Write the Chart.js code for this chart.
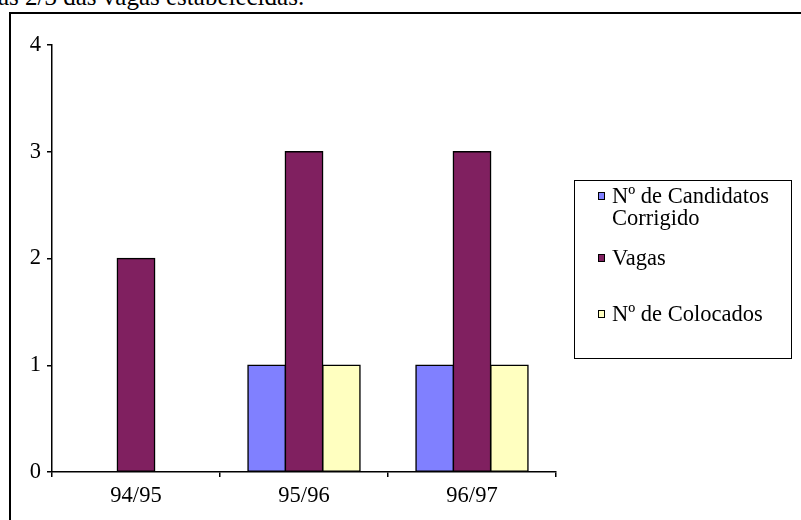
<!DOCTYPE html>
<html>
<head>
<meta charset="utf-8">
<script src="https://cdn.jsdelivr.net/npm/chart.js@4.4.0/dist/chart.umd.min.js"></script>
<style>
    body { margin: 0; background: #fff; width: 801px; height: 520px; overflow: hidden; position: relative; font-family: "Liberation Serif", "Times New Roman", serif; }
    #top-text { position: absolute; left: -2px; top: -17px; font-size: 25px; white-space: nowrap; }
    #frame { position: absolute; left: 9px; top: 12px; width: 900px; height: 600px; border: 2px solid #000; box-sizing: border-box; }
    #chart-container { position: absolute; left: 0; top: 0; width: 801px; height: 520px; }
    #legend { position: absolute; left: 574px; top: 180px; width: 218px; height: 179px; border: 1.5px solid #000; box-sizing: border-box; font-size: 22.5px; }
    .item { position: absolute; left: 37px; line-height: 22px; }
    .mark { position: absolute; left: -14px; top: 7px; width: 5px; height: 6px; border: 1px solid #000; }
</style>
</head>
<body>
<div id="top-text">as 2/3 das vagas estabelecidas.</div>
<div id="frame"></div>
<div id="chart-container"><canvas id="myChart" width="801" height="520"></canvas></div>
<div id="legend"></div>
<script>
const categories = ["94/95", "95/96", "96/97"];
const candidatos = [null, 1, 1];
const vagas = [2, 3, 3];
const colocados = [null, 1, 1];
const seriesNames = [["Nº de Candidatos", "Corrigido"], ["Vagas"], ["Nº de Colocados"]];
const seriesColors = ["#8080FF", "#802060", "#FFFFC0"];
const legendTops = [4, 66, 122];

const data = {
    labels: categories,
    datasets: [candidatos, vagas, colocados].map((values, i) => ({
        label: seriesNames[i].join(" "),
        data: values,
        backgroundColor: seriesColors[i],
        borderColor: "#000",
        borderWidth: 1.5,
        borderSkipped: false,
        inflateAmount: 0.75,
        categoryPercentage: 0.667,
        barPercentage: 1,
    })),
};

const axisFont = { family: "Liberation Serif", size: 22.5 };

const config = {
    type: "bar",
    data: data,
    options: {
        responsive: false,
        animation: false,
        layout: { padding: { top: 45, right: 245, left: 0, bottom: 0 } },
        plugins: { legend: { display: false }, tooltip: { enabled: false } },
        scales: {
            x: {
                grid: { display: true, drawOnChartArea: false, tickLength: 5, color: "#000", lineWidth: 1.5, offset: true },
                border: { color: "#000", width: 1.5 },
                ticks: { color: "#000", font: axisFont, padding: 6 },
                afterFit: (scale) => { scale.height = 48; },
            },
            y: {
                min: 0,
                max: 4,
                grid: { display: true, drawOnChartArea: false, tickLength: 5, color: "#000", lineWidth: 1.5 },
                border: { color: "#000", width: 1.5 },
                ticks: { color: "#000", font: axisFont, stepSize: 1, padding: 6 },
                afterFit: (scale) => { scale.width = 52; },
            },
        },
    },
};

const myChart = new Chart(document.getElementById("myChart"), config);

// legend drawn from the same series arrays
const legend = document.getElementById("legend");
seriesNames.forEach((lines, i) => {
    const item = document.createElement("div");
    item.className = "item";
    item.style.top = legendTops[i] + "px";
    item.innerHTML = lines.join("<br>");
    const mark = document.createElement("span");
    mark.className = "mark";
    mark.style.background = seriesColors[i];
    item.appendChild(mark);
    legend.appendChild(item);
});
</script>
</body>
</html>
